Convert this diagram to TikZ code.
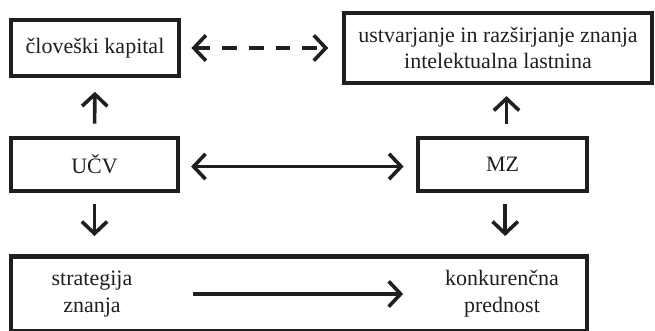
\documentclass[tikz,border=0pt]{standalone}
\usepackage{fontspec}
\setmainfont{Liberation Serif}
\usetikzlibrary{arrows.meta}

\begin{document}
\begin{tikzpicture}[
			x=0.75pt, y=-0.75pt,
			every node/.style={font=\fontsize{16.5}{20}\selectfont, align=center, text=black!88},
			blok/.style={draw=black!88, line width=3.6pt, inner sep=0pt},
			puscica/.style={draw=black!88, line width=2.7pt, -{Straight Barb[length=9pt,width=19pt]}},
			dvojna/.style={puscica, {Straight Barb[length=9pt,width=19pt]}-{Straight Barb[length=9pt,width=19pt]}}
			]

				\useasboundingbox (0,0) rectangle (655,331);

				\node[blok, minimum width=126pt, minimum height=42pt] (kap) at (95,48) {človeški kapital};
				\node[blok, minimum width=231pt, minimum height=52.5pt] (ustv) at (498,48) {ustvarjanje in razširjanje znanja\\intelektualna lastnina};
				\node[blok, minimum width=125.25pt, minimum height=39.75pt] (ucv) at (94.5,164.5) {UČV};
				\node[blok, minimum width=126.75pt, minimum height=39.75pt] (mz) at (502.5,164.5) {MZ};
				\node[blok, minimum width=432pt, minimum height=56pt] (dno) at (299,293.75) {};

				\node (strat) at (92,294) {strategija\\znanja};
				\node (konk) at (502,294) {konkurenčna\\prednost};

				\draw[dvojna, dash pattern=on 11pt off 9pt, shorten <=7.5pt, shorten >=10pt] (kap) -- (ustv);
				\draw[puscica, shorten <=9pt, shorten >=10pt] (ucv.north) -- (kap.south);
				\draw[puscica, shorten <=9pt, shorten >=8pt] ([xshift=3pt]mz.north) -- ([xshift=3pt]mz.north |- ustv.south);
				\draw[dvojna, shorten <=8pt, shorten >=9pt] ([yshift=-1.5pt]ucv.east) -- ([yshift=-1.5pt]mz.west);
				\draw[puscica, shorten <=8pt, shorten >=13.5pt] (ucv.south) -- (ucv.south |- dno.north);
				\draw[puscica, shorten <=8pt, shorten >=13.5pt] ([xshift=2pt]mz.south) -- ([xshift=2pt]mz.south |- dno.north);
				\draw[puscica, shorten <=42pt, shorten >=28pt] (strat) -- (konk);

			\end{tikzpicture}
\end{document}
